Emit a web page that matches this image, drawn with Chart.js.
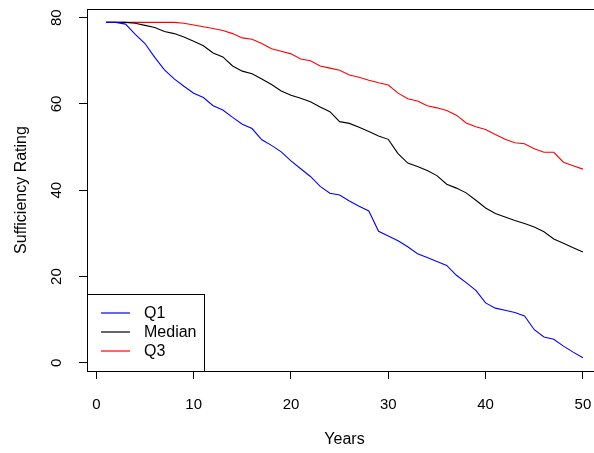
<!DOCTYPE html>
<html>
<head>
<meta charset="utf-8">
<script src="https://cdn.jsdelivr.net/npm/chart.js@4.4.1/dist/chart.umd.min.js"></script>
<style>
    html, body { margin: 0; padding: 0; background: #fff; overflow: hidden; }
    #wrap { width: 610px; height: 453px; }
</style>
</head>
<body>
<div id="wrap"><canvas id="myChart" width="610" height="453"></canvas></div>
<script>
// data
const years = [1,2,3,4,5,6,7,8,9,10,11,12,13,14,15,16,17,18,19,20,21,22,23,24,25,
               26,27,28,29,30,31,32,33,34,35,36,37,38,39,40,41,42,43,44,45,46,47,48,49,50];
const q1 = [78.9,78.9,78.5,76.1,74.0,70.8,67.9,65.8,64.1,62.5,61.5,59.6,58.6,56.9,55.3,
            54.3,51.7,50.4,48.9,46.8,45.0,43.2,40.9,39.3,38.9,37.5,36.3,35.2,30.5,29.4,
            28.3,26.9,25.3,24.4,23.5,22.6,20.3,18.6,16.8,13.9,12.7,12.2,11.7,10.9,7.7,
            6.0,5.5,3.9,2.5,1.2];
const median = [78.9,78.9,78.9,78.7,78.2,77.7,76.8,76.3,75.5,74.5,73.5,71.8,70.9,68.8,67.6,
                67.0,65.8,64.5,63.0,62.0,61.3,60.5,59.3,58.2,55.9,55.5,54.6,53.6,52.6,51.8,
                48.5,46.3,45.5,44.6,43.4,41.4,40.5,39.4,37.7,35.9,34.6,33.8,33.0,32.3,31.5,
                30.4,28.7,27.7,26.7,25.7];
const q3 = [78.9,78.9,78.9,78.9,78.9,78.9,78.9,78.9,78.7,78.3,77.9,77.5,77.0,76.3,75.3,
            75.0,74.0,72.8,72.2,71.6,70.4,70.0,68.8,68.3,67.8,66.7,66.2,65.5,64.9,64.4,
            62.5,61.2,60.7,59.6,59.1,58.5,57.4,55.6,54.7,54.1,52.9,51.8,51.0,50.8,49.6,
            48.8,48.8,46.5,45.7,44.9];
const seriesNames = ['Q1', 'Median', 'Q3'];
const xTicks = [0,10,20,30,40,50];
const yTicks = [0,20,40,60,80];

const FONT = 'Liberation Sans, Arial, sans-serif';
const BLUE = 'rgb(0,0,255)';
const BLACK = 'rgb(0,0,0)';
const RED = 'rgb(255,0,0)';

function pts(vals) {
    return years.map((yr, i) => ({x: yr, y: vals[i]}));
}

// R style box round the plot region
const boxPlugin = {
    id: 'box',
    afterDraw(chart) {
        const a = chart.chartArea, ctx = chart.ctx;
        ctx.save();
        ctx.strokeStyle = BLACK;
        ctx.lineWidth = 1;
        ctx.strokeRect(Math.round(a.left) + 0.5, Math.round(a.top) + 0.5,
                       Math.round(a.right - a.left), Math.round(a.bottom - a.top));
        ctx.restore();
    }
};

// y tick labels, rotated like R's las=0
const yLabelPlugin = {
    id: 'yLabels',
    afterDraw(chart) {
        const s = chart.scales.y, ctx = chart.ctx;
        ctx.save();
        ctx.fillStyle = BLACK;
        ctx.font = '15px ' + FONT;
        ctx.textAlign = 'center';
        ctx.textBaseline = 'middle';
        yTicks.forEach(v => {
            ctx.save();
            ctx.translate(57, s.getPixelForValue(v));
            ctx.rotate(-Math.PI / 2);
            ctx.fillText(String(v), 0, 0);
            ctx.restore();
        });
        ctx.restore();
    }
};

// legend box in the bottom left corner
const legendPlugin = {
    id: 'legendBox',
    afterDraw(chart) {
        const a = chart.chartArea, ctx = chart.ctx;
        const x0 = Math.round(a.left), y0 = 294, x1 = 204, y1 = Math.round(a.bottom);
        ctx.save();
        ctx.fillStyle = '#fff';
        ctx.fillRect(x0, y0, x1 - x0, y1 - y0);
        ctx.strokeStyle = BLACK;
        ctx.lineWidth = 1;
        ctx.strokeRect(x0 + 0.5, y0 + 0.5, x1 - x0, y1 - y0);
        ctx.font = '16px ' + FONT;
        ctx.textBaseline = 'middle';
        ctx.textAlign = 'left';
        chart.data.datasets.forEach((ds, i) => {
            const y = 313 + i * 19;
            ctx.strokeStyle = ds.borderColor;
            ctx.lineWidth = 1.2;
            ctx.beginPath();
            ctx.moveTo(101, y);
            ctx.lineTo(130, y);
            ctx.stroke();
            ctx.fillStyle = BLACK;
            ctx.fillText(ds.label, 144, y + 1);
        });
        ctx.restore();
    }
};

const config = {
    type: 'line',
    data: {
        datasets: [
            {label: seriesNames[0], data: pts(q1), borderColor: BLUE},
            {label: seriesNames[1], data: pts(median), borderColor: BLACK},
            {label: seriesNames[2], data: pts(q3), borderColor: RED}
        ]
    },
    options: {
        responsive: false,
        animation: false,
        layout: {padding: {top: 9, right: 8, left: 0, bottom: 0}},
        elements: {
            line: {borderWidth: 1.1, tension: 0, fill: false},
            point: {radius: 0}
        },
        plugins: {legend: {display: false}, tooltip: {enabled: false}},
        scales: {
            x: {
                type: 'linear',
                min: -0.96,
                max: 51.96,
                afterBuildTicks: s => { s.ticks = xTicks.map(v => ({value: v})); },
                afterFit: s => { s.height = 82; },
                grid: {drawOnChartArea: false, drawTicks: true, tickLength: 8, color: BLACK},
                border: {display: true, color: BLACK},
                ticks: {color: BLACK, font: {family: FONT, size: 15}, padding: 17, maxRotation: 0},
                title: {display: true, text: 'Years', color: BLACK,
                        font: {family: FONT, size: 16}, padding: {top: 0, bottom: 4}}
            },
            y: {
                min: -1.87,
                max: 82.0,
                afterBuildTicks: s => { s.ticks = yTicks.map(v => ({value: v})); },
                afterFit: s => { s.width = 87; },
                grid: {drawOnChartArea: false, drawTicks: true, tickLength: 8, color: BLACK},
                border: {display: true, color: BLACK},
                ticks: {display: false},
                title: {display: true, text: 'Sufficiency Rating', color: BLACK,
                        font: {family: FONT, size: 16}, padding: {top: 12, bottom: 0}}
            }
        }
    },
    plugins: [boxPlugin, yLabelPlugin, legendPlugin]
};

const ctx = document.getElementById('myChart').getContext('2d');
const chart = new Chart(ctx, config);
</script>
</body>
</html>
